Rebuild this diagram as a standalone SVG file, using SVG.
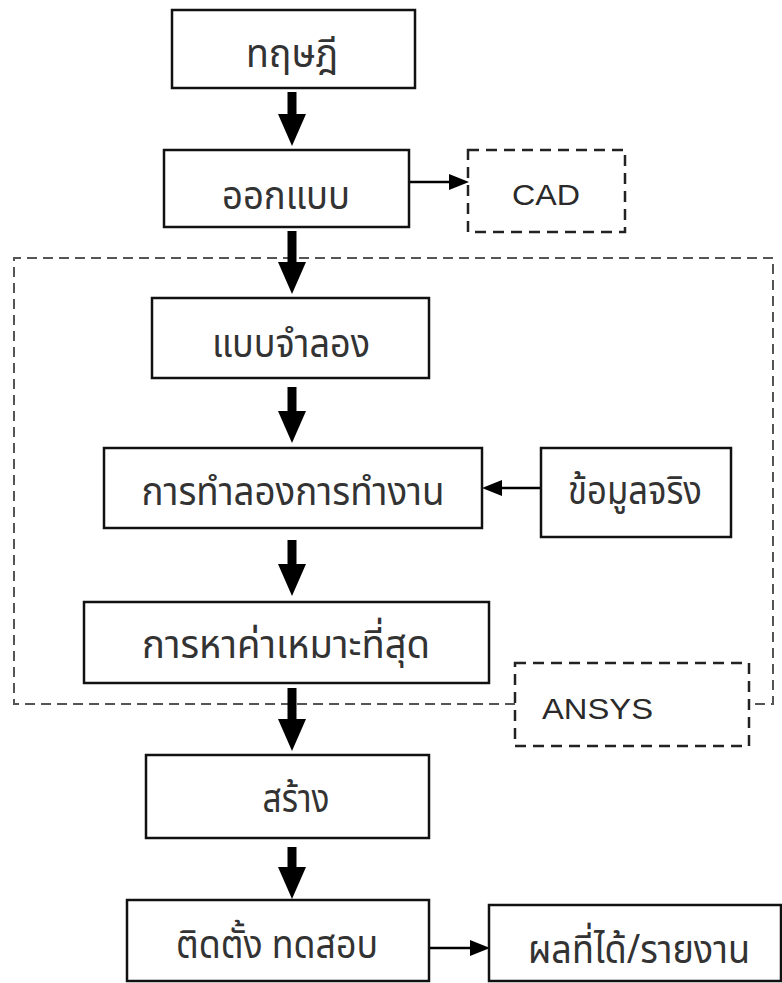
<svg xmlns="http://www.w3.org/2000/svg" width="782" height="983" viewBox="0 0 782 983">
<style>
.box{fill:#fff;stroke:#111;stroke-width:2.5}
.dbox{fill:none;stroke:#222;stroke-width:2.5;stroke-dasharray:11 7}
.group{fill:none;stroke:#555;stroke-width:2;stroke-dasharray:10 6}
.th{font-family:"Noto Sans Thai","Noto Sans","DejaVu Sans",sans-serif;font-size:40px;fill:#333;text-anchor:middle}
.en{font-family:"Liberation Sans",Arial,sans-serif;font-size:30px;fill:#2a2a2a}
.big{stroke:#000;stroke-width:9;fill:none}
.thin{stroke:#000;stroke-width:2.5;fill:none}
</style>
<defs>
<marker id="bigHead" markerUnits="userSpaceOnUse" markerWidth="32" markerHeight="30" refX="0" refY="14" orient="auto" viewBox="0 0 32 28">
<path d="M0,0 L32,14 L0,28 z" fill="#000"/>
</marker>
<marker id="thinHead" markerUnits="userSpaceOnUse" markerWidth="20" markerHeight="18" refX="0" refY="8" orient="auto" viewBox="0 0 20 16">
<path d="M0,0 L20,8 L0,16 z" fill="#000"/>
</marker>
</defs>
<g id="ansys-group">
<path class="group" d="M515,704 L14,704 L14,258 L773,258 L773,704 L749,704"/>
</g>
<g id="connectors">
<line class="big" x1="292" y1="92" x2="292" y2="114" marker-end="url(#bigHead)"/>
<line class="big" x1="292" y1="231" x2="292" y2="262" marker-end="url(#bigHead)"/>
<line class="big" x1="292" y1="387" x2="292" y2="411" marker-end="url(#bigHead)"/>
<line class="big" x1="292" y1="540" x2="292" y2="564" marker-end="url(#bigHead)"/>
<line class="big" x1="292" y1="688" x2="292" y2="719" marker-end="url(#bigHead)"/>
<line class="big" x1="292" y1="847" x2="292" y2="867" marker-end="url(#bigHead)"/>
<line class="thin" x1="410" y1="182" x2="449" y2="182" marker-end="url(#thinHead)"/>
<line class="thin" x1="541" y1="488" x2="502" y2="488" marker-end="url(#thinHead)"/>
<line class="thin" x1="430" y1="948" x2="470" y2="948" marker-end="url(#thinHead)"/>
</g>
<g id="n-theory">
<rect class="box" x="172" y="10" width="243" height="78"/>
<text class="th" x="292" y="67" textLength="92" lengthAdjust="spacingAndGlyphs">ทฤษฎี</text>
</g>
<g id="n-design">
<rect class="box" x="164" y="150" width="245" height="77"/>
<text class="th" x="286" y="209" textLength="128" lengthAdjust="spacingAndGlyphs">ออกแบบ</text>
</g>
<g id="n-cad">
<rect class="dbox" x="468" y="150" width="157" height="82"/>
<text class="en" x="546" y="205" text-anchor="middle" textLength="68" lengthAdjust="spacingAndGlyphs">CAD</text>
</g>
<g id="n-model">
<rect class="box" x="152" y="298" width="277" height="80"/>
<text class="th" x="291" y="357" textLength="158" lengthAdjust="spacingAndGlyphs">แบบจำลอง</text>
</g>
<g id="n-simulate">
<rect class="box" x="104" y="448" width="378" height="80"/>
<text class="th" x="293" y="505" textLength="303" lengthAdjust="spacingAndGlyphs">การทำลองการทำงาน</text>
</g>
<g id="n-realdata">
<rect class="box" x="541" y="448" width="190" height="89"/>
<text class="th" x="635" y="504" textLength="134" lengthAdjust="spacingAndGlyphs">ข้อมูลจริง</text>
</g>
<g id="n-optimize">
<rect class="box" x="84" y="602" width="405" height="81"/>
<text class="th" x="286" y="658" textLength="288" lengthAdjust="spacingAndGlyphs">การหาค่าเหมาะที่สุด</text>
</g>
<g id="n-ansys">
<rect class="dbox" x="515" y="663" width="234" height="83"/>
<text class="en" x="542" y="719" textLength="111" lengthAdjust="spacingAndGlyphs">ANSYS</text>
</g>
<g id="n-build">
<rect class="box" x="146" y="755" width="283" height="83"/>
<text class="th" x="296" y="812" textLength="67" lengthAdjust="spacingAndGlyphs">สร้าง</text>
</g>
<g id="n-install">
<rect class="box" x="127" y="900" width="302" height="81"/>
<text class="th" x="277" y="958" textLength="202" lengthAdjust="spacingAndGlyphs">ติดตั้ง ทดสอบ</text>
</g>
<g id="n-result">
<rect class="box" x="489" y="905" width="292" height="76"/>
<text class="th" x="639" y="963" textLength="222" lengthAdjust="spacingAndGlyphs">ผลที่ได้/รายงาน</text>
</g>
</svg>
